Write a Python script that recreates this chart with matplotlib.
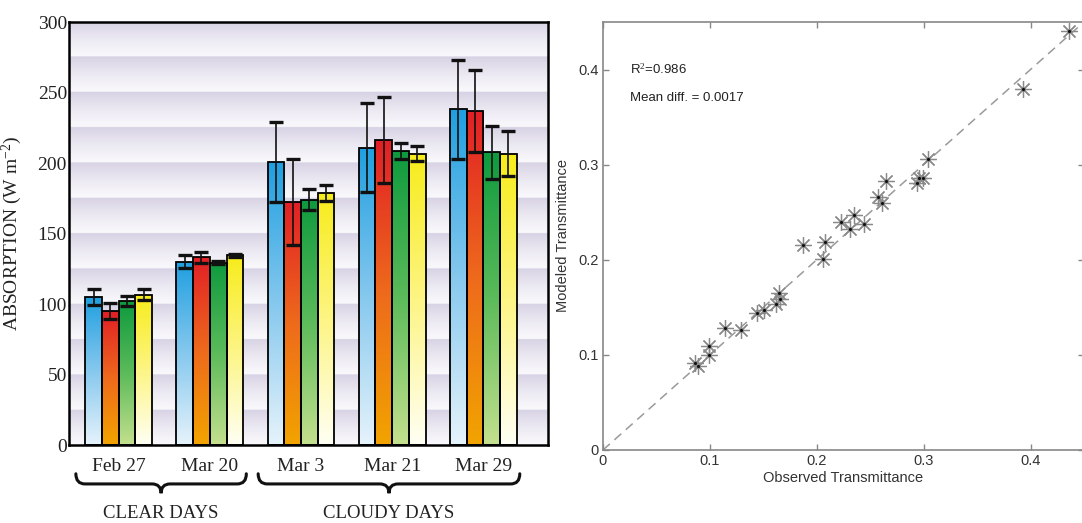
import numpy as np
import matplotlib
matplotlib.use('Agg')
import matplotlib.pyplot as plt
from matplotlib.path import Path
from matplotlib.patches import PathPatch
import matplotlib.transforms as mtransforms
from matplotlib.colors import LinearSegmentedColormap

# ---------------- data ----------------
days = ['Feb 27', 'Mar 20', 'Mar 3', 'Mar 21', 'Mar 29']
group_names = ['CLEAR DAYS', 'CLOUDY DAYS']
group_members = [[0, 1], [2, 3, 4]]

absorb_blue = [105, 130, 200.5, 211, 238]
absorb_red = [95, 133, 172.5, 216, 237]
absorb_green = [102, 129.3, 174, 208.5, 207.5]
absorb_yellow = [106.6, 134.5, 178.6, 206.7, 206.7]

err_blue = [6, 4.6, 28.5, 31.5, 35]
err_red = [5.7, 4.2, 30.5, 30.5, 29]
err_green = [3.5, 1.0, 7.5, 5.5, 18.8]
err_yellow = [4, 1.0, 5.5, 5.5, 16]

y_ticks_left = [0, 50, 100, 150, 200, 250, 300]

obs_trans = [0.436, 0.393, 0.304, 0.296, 0.294, 0.299, 0.265, 0.257, 0.261,
             0.244, 0.235, 0.231, 0.223, 0.208, 0.187, 0.206, 0.165, 0.166,
             0.162, 0.151, 0.144, 0.129, 0.114, 0.0995, 0.0995, 0.086, 0.089]
mod_trans = [0.441, 0.379, 0.306, 0.286, 0.281, 0.286, 0.283, 0.266, 0.260,
             0.238, 0.247, 0.232, 0.240, 0.219, 0.215, 0.201, 0.165, 0.159,
             0.153, 0.147, 0.144, 0.126, 0.128, 0.109, 0.100, 0.091, 0.088]
r2_text = 'R$^{2}$=0.986'
mean_diff_text = 'Mean diff. = 0.0017'
ticks_right = [0, 0.1, 0.2, 0.3, 0.4]
tick_labels_right = ['0', '0.1', '0.2', '0.3', '0.4']

# ---------------- figure ----------------
plt.rcParams['mathtext.fontset'] = 'custom'
plt.rcParams['mathtext.rm'] = 'Liberation Serif'
plt.rcParams['mathtext.it'] = 'Liberation Serif:italic'

fig = plt.figure(figsize=(10.82, 5.23), dpi=100)
ax = fig.add_axes([0.0638, 0.1491, 0.4427, 0.8088])

serif = 'Liberation Serif'
n = len(days)
x = np.arange(n)
w = 0.1836
xlim = (-0.545, 4.71)
ymax = 300

# background bands
rows = 600
yy = np.linspace(0, ymax, rows)
frac = (yy % 25) / 25.0
top_c = np.array([0.845, 0.825, 0.895])
bot_c = np.array([0.975, 0.972, 0.985])
bg = bot_c[None, :] * (1 - frac[:, None] ** 1.3) + top_c[None, :] * (frac[:, None] ** 1.3)
bg = np.repeat(bg[:, None, :], 2, axis=1)
ax.imshow(bg, extent=[xlim[0], xlim[1], 0, ymax], origin='lower', aspect='auto', zorder=0,
          interpolation='bilinear')

series = [absorb_blue, absorb_red, absorb_green, absorb_yellow]
errs = [err_blue, err_red, err_green, err_yellow]
grads = [
    ['#e6f3fb', '#86c8ee', '#1f9fe0'],
    ['#f2a400', '#ee6a1c', '#e11f26'],
    ['#c4e08e', '#5cbb5a', '#0e9a3e'],
    ['#fffff4', '#fdf584', '#f7ec1a'],
]
grad = np.linspace(0, 1, 256)[:, None]
for i, (vals, ev, cl) in enumerate(zip(series, errs, grads)):
    cmap = LinearSegmentedColormap.from_list('g%d' % i, cl)
    xpos = x + (i - 1.5) * w
    bars = ax.bar(xpos, vals, width=w, facecolor='none', edgecolor='black', linewidth=1.3, zorder=3)
    for b in bars:
        bx, by = b.get_x(), b.get_y()
        bw, bh = b.get_width(), b.get_height()
        im = ax.imshow(grad, extent=[bx, bx + bw, by, by + bh], origin='lower', aspect='auto',
                       cmap=cmap, zorder=2.5, interpolation='bilinear')
        im.set_clip_path(b)
    ax.errorbar(xpos, vals, yerr=ev, fmt='none', ecolor='#111111', elinewidth=1.2,
                capsize=5, capthick=2.4, zorder=4)

ax.set_xlim(*xlim)
ax.set_ylim(0, ymax)
ax.set_yticks(y_ticks_left)
ax.set_yticklabels([str(t) for t in y_ticks_left], fontsize=14, family=serif, color='#222222')
ax.set_xticks(x)
ax.set_xticklabels(days, fontsize=14, family=serif, color='#222222')
ax.tick_params(axis='both', length=0)
ax.tick_params(axis='x', pad=9)
ax.tick_params(axis='y', pad=1.5)
for s in ax.spines.values():
    s.set_linewidth(1.8)
    s.set_color('black')
ax.set_ylabel('ABSORPTION (W m$^{\\mathregular{-2}}$)', fontsize=14, family=serif,
              color='#222222', labelpad=10)

# braces
trans = mtransforms.blended_transform_factory(ax.transData, ax.transAxes)


def brace(x0, x1, y_end, y_mid, y_tip):
    xc = 0.5 * (x0 + x1)
    r = 0.1
    verts = [(x0, y_end), (x0, y_mid), (x0 + r, y_mid),
             (xc - r, y_mid), (xc, y_mid), (xc, y_tip),
             (xc, y_mid), (xc + r, y_mid),
             (x1 - r, y_mid), (x1, y_mid), (x1, y_end)]
    codes = [Path.MOVETO, Path.CURVE3, Path.CURVE3,
             Path.LINETO, Path.CURVE3, Path.CURVE3,
             Path.CURVE3, Path.CURVE3,
             Path.LINETO, Path.CURVE3, Path.CURVE3]
    p = PathPatch(Path(verts, codes), transform=trans, fill=False, lw=2.2,
                  edgecolor='#111111', clip_on=False, capstyle='round')
    ax.add_patch(p)
    return xc


for name, members in zip(group_names, group_members):
    x0 = x[members[0]] - 0.47
    x1 = x[members[-1]] + 0.40
    xc = brace(x0, x1, -0.068, -0.092, -0.114)
    ax.text(xc, -0.163, name, transform=trans, ha='center', va='center', fontsize=13.5,
            family=serif, color='#222222')

# ---------------- right panel ----------------
ax2 = fig.add_axes([0.5573, 0.1396, 0.4445, 0.8184])
gray = '#888888'
ax2.plot([0, 0.45], [0, 0.45], linestyle=(0, (6, 4)), color='#9a9a9a', lw=1.1, zorder=1)
ax2.plot(obs_trans, mod_trans, linestyle='none', marker=(8, 2, 0), markersize=12,
         markeredgecolor='#8a8a8a', markeredgewidth=0.9, zorder=2, clip_on=False)
ax2.plot(obs_trans, mod_trans, linestyle='none', marker='.', markersize=2.5,
         color='#111111', zorder=3, clip_on=False)
ax2.set_xlim(0, 0.45)
ax2.set_ylim(0, 0.45)
ax2.set_xticks(ticks_right)
ax2.set_xticklabels(tick_labels_right)
ax2.set_yticks(ticks_right)
ax2.set_yticklabels(tick_labels_right)
ax2.tick_params(direction='in', length=4, width=1, color=gray, labelsize=10.5,
                labelcolor='#333333', top=True, right=True, pad=3)
for s in ax2.spines.values():
    s.set_color(gray)
    s.set_linewidth(1.2)
ax2.set_xlabel('Observed Transmittance', fontsize=10.5, color='#333333', labelpad=2,
               family='Liberation Sans')
ax2.set_ylabel('Modeled Transmittance', fontsize=10.5, color='#333333', labelpad=6,
               family='Liberation Sans')
for lab in ax2.get_xticklabels() + ax2.get_yticklabels():
    lab.set_family('Liberation Sans')
ax2.text(0.025, 0.4, r2_text, fontsize=9.5, color='#222222', va='center',
         family='Liberation Sans')
ax2.text(0.025, 0.37, mean_diff_text, fontsize=9.5, color='#222222', va='center',
         family='Liberation Sans')

fig.savefig('out.png', dpi=100)
